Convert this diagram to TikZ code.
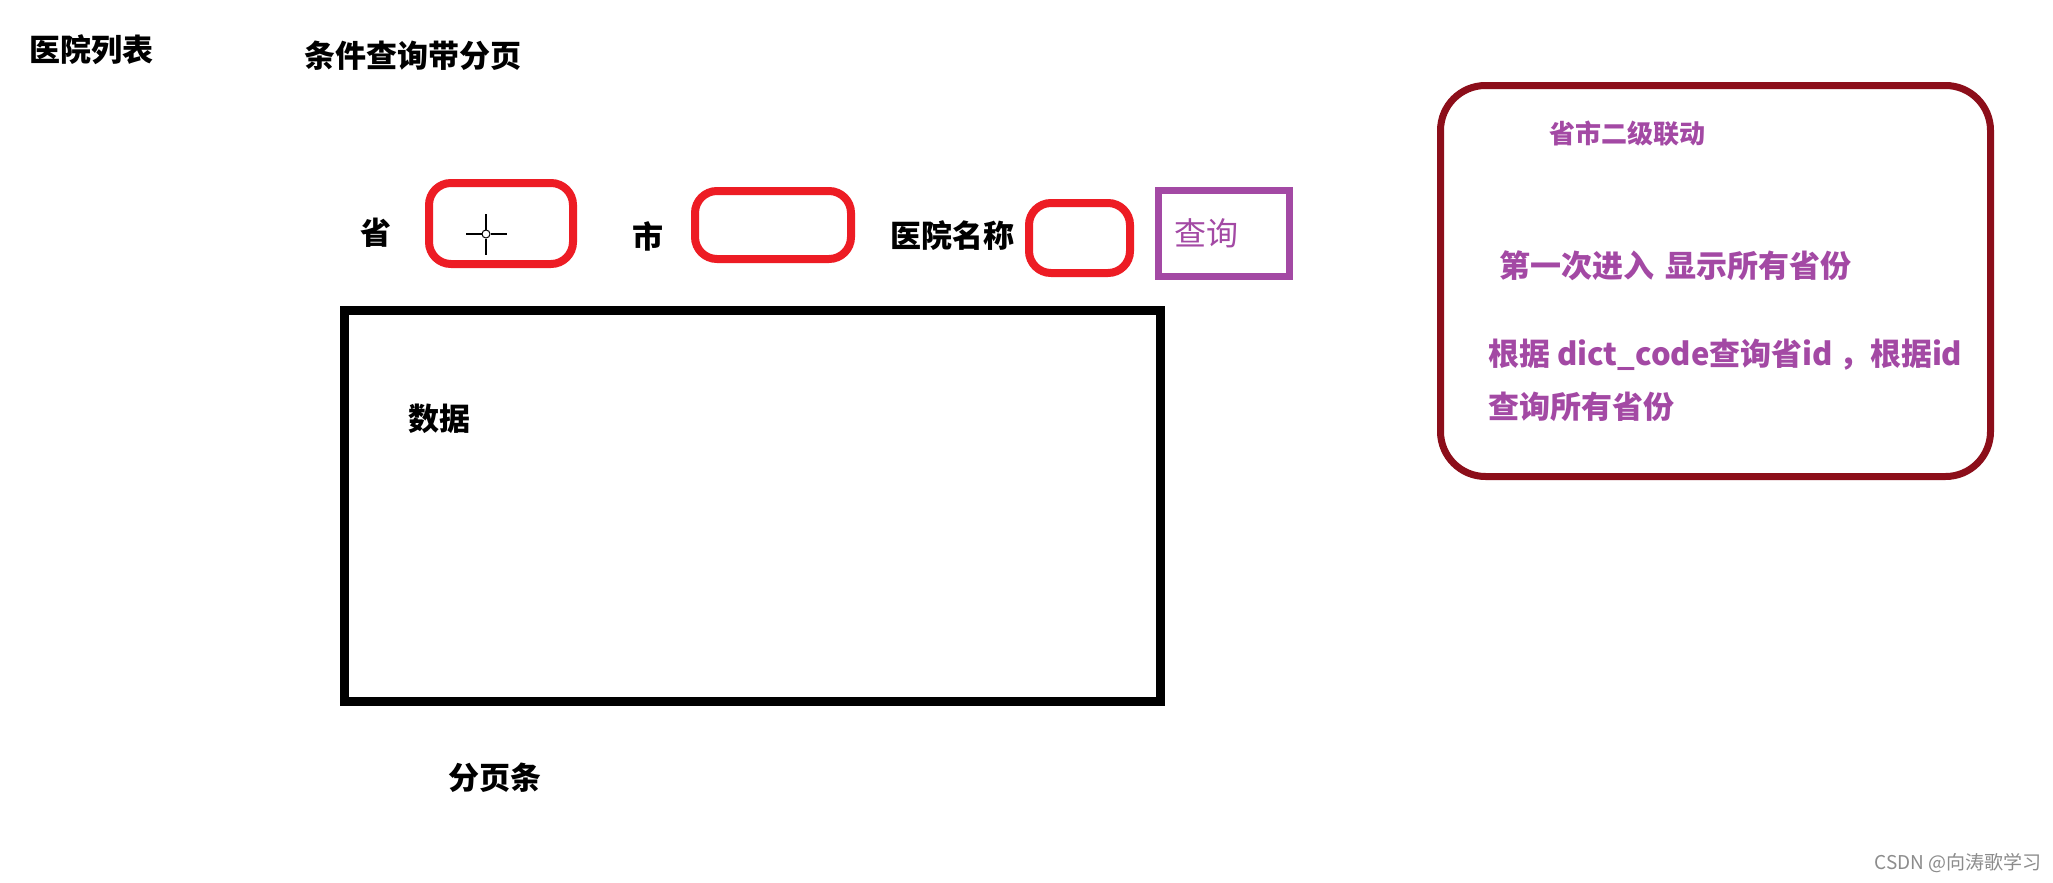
\documentclass[tikz,border=0pt]{standalone}
\usepackage{fontspec}
\newfontfamily\cjk{Noto Sans CJK SC}
\definecolor{pred}{RGB}{237,28,36}
\definecolor{ppurple}{RGB}{163,73,164}
\definecolor{pdark}{RGB}{140,14,26}
\begin{document}
\begin{tikzpicture}[x=1pt,y=-1pt,
  lbl/.style={font=\cjk\bfseries\fontsize{31}{36}\selectfont, inner sep=0pt, anchor=west},
  plbl/.style={lbl, text=ppurple},
  redbox/.style={draw=pred, line width=8pt, rounded corners=22pt, inner sep=0pt},
  querybox/.style={draw=ppurple, line width=7pt, inner sep=0pt},
  databox/.style={draw=black, line width=9pt, inner sep=0pt},
  notebox/.style={draw=pdark, line width=7pt, rounded corners=45pt, inner sep=0pt}]
\useasboundingbox[fill=white] (0,0) rectangle (2053,883);

\node[lbl] (title) at (29,50) {医院列表};
\node[lbl] (sub) at (304,56) {条件查询带分页};

\node[lbl] (lprov) at (360,233) {省};
\node[redbox, minimum width=144pt, minimum height=81pt] (prov) at (501,223.5) {};
\node[draw, circle, line width=1pt, minimum size=8pt, inner sep=0pt] (cross) at (486,234) {};
\draw[line width=1.2pt] (cross.north) -- ++(0,-16);
\draw[line width=1.2pt] (cross.south) -- ++(0,16);
\draw[line width=1.2pt] (cross.west) -- ++(-16,0);
\draw[line width=1.2pt] (cross.east) -- ++(16,0);

\node[lbl] (lcity) at (632,236) {市};
\node[redbox, minimum width=156pt, minimum height=68pt] (city) at (773,225) {};

\node[lbl] (lname) at (890,236) {医院名称};
\node[redbox, minimum width=101pt, minimum height=70pt] (hname) at (1079.5,238) {};

\node[querybox, minimum width=131pt, minimum height=86pt] (query) at (1223.5,233) {};
\node[lbl, font=\cjk\fontsize{32}{36}\selectfont, text=ppurple] (lquery) at (1174,233) {查询};

\node[databox, minimum width=816pt, minimum height=391pt] (data) at (752.5,506) {};
\node[lbl] (ldata) at (408,419) {数据};

\node[lbl] (pager) at (448,778) {分页条};

\node[notebox, minimum width=550pt, minimum height=391pt] (note) at (1715.5,281) {};
\node[plbl, font=\cjk\bfseries\fontsize{26}{32}\selectfont] (n1) at (1549,134) {省市二级联动};
\node[plbl] (n2) at (1499,266) {第一次进入\hspace{4pt} 显示所有省份};
\node[plbl] (n3) at (1488,355) {根据 dict\_code查询省id\hspace{6pt}，根据id};
\node[plbl] (n4) at (1488,407) {查询所有省份};

\node[font=\cjk\fontsize{19}{22}\selectfont, text=black!45, inner sep=0pt, anchor=east] (wm) at (2042,863) {CSDN @向涛歌学习};
\end{tikzpicture}
\end{document}
